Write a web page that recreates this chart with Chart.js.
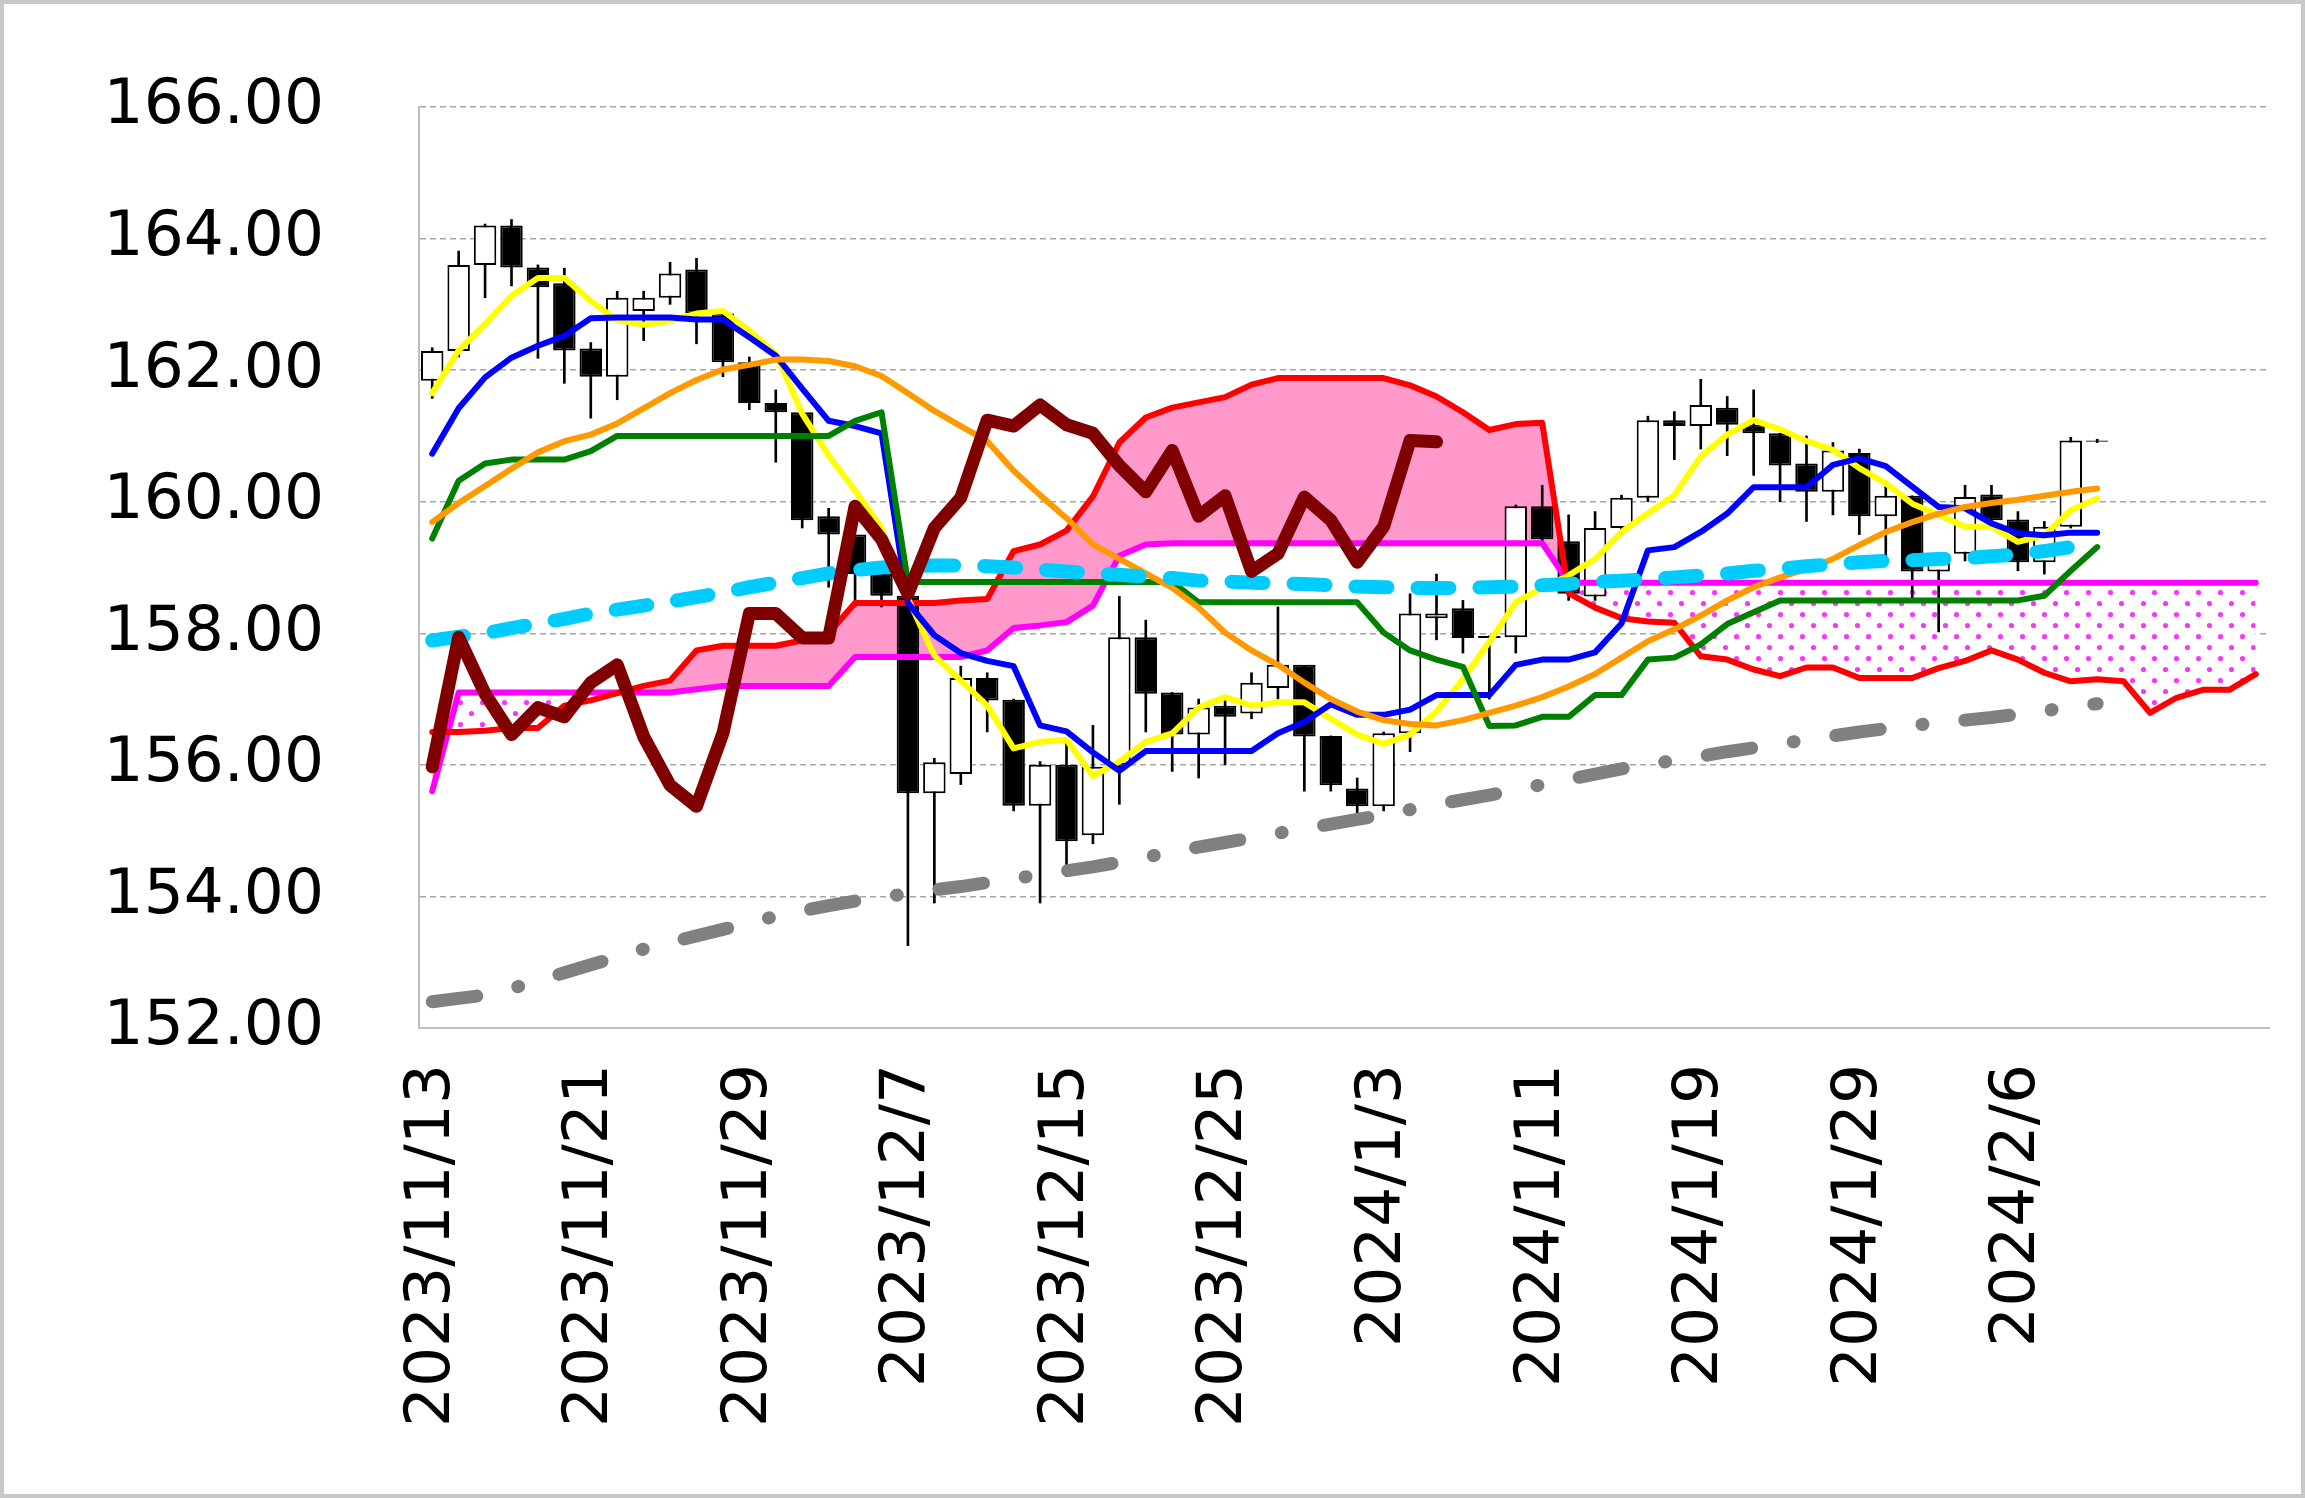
<!DOCTYPE html>
<html>
<head>
<meta charset="utf-8">
<script src="https://cdn.jsdelivr.net/npm/chart.js@4.4.1/dist/chart.umd.min.js"></script>
<style>
  html, body { margin: 0; padding: 0; background: #fff; }
  #wrap { position: absolute; left: 0; top: 0; width: 2297px; height: 1490px; border: 4px solid #c8c8c8; }
  canvas { display: block; }
</style>
</head>
<body>
<div id="wrap"><canvas id="chart" width="2297" height="1490"></canvas></div>
<script>
// Categories (trading days + future cloud days)
const dates = ['2023/11/13','2023/11/14','2023/11/15','2023/11/16','2023/11/17','2023/11/20','2023/11/21','2023/11/22','2023/11/23','2023/11/24',
  '2023/11/27','2023/11/28','2023/11/29','2023/11/30','2023/12/1','2023/12/4','2023/12/5','2023/12/6','2023/12/7','2023/12/8',
  '2023/12/11','2023/12/12','2023/12/13','2023/12/14','2023/12/15','2023/12/18','2023/12/19','2023/12/20','2023/12/21','2023/12/22',
  '2023/12/25','2023/12/26','2023/12/27','2023/12/28','2023/12/29','2024/1/2','2024/1/3','2024/1/4','2024/1/5','2024/1/8',
  '2024/1/9','2024/1/10','2024/1/11','2024/1/12','2024/1/15','2024/1/16','2024/1/17','2024/1/18','2024/1/19','2024/1/22',
  '2024/1/23','2024/1/24','2024/1/25','2024/1/26','2024/1/29','2024/1/30','2024/1/31','2024/2/1','2024/2/2','2024/2/5',
  '2024/2/6','2024/2/7','2024/2/8','2024/2/9','','','','','',''];
const shownLabels = ['2023/11/13','2023/11/21','2023/11/29','2023/12/7','2023/12/15','2023/12/25','2024/1/3','2024/1/11','2024/1/19','2024/1/29','2024/2/6'];

// Candles
const opens  = [161.84,162.29,163.6,164.2,163.56,163.32,162.33,161.9,162.9,163.1,163.53,162.86,162.12,161.5,161.36,159.78,159.5,158.9,158.57,155.57,
  155.86,157.32,156.99,155.38,156.0,154.93,156.0,157.94,157.1,156.46,156.9,156.78,157.17,157.52,156.44,155.64,155.37,156.48,158.23,158.38,
  157.96,157.94,159.93,159.4,158.56,159.6,160.06,161.24,161.15,161.43,161.17,161.04,160.58,160.15,160.74,159.78,160.09,158.94,159.21,160.11,
  159.73,159.08,159.62,160.93];
const closes = [162.29,163.6,164.2,163.56,163.26,162.3,161.9,163.1,163.1,163.47,162.86,162.12,161.5,161.36,159.72,159.5,158.9,158.57,155.57,156.04,
  157.32,156.98,155.38,156.0,154.84,155.97,157.94,157.08,156.46,156.87,156.73,157.25,157.52,156.43,155.69,155.37,156.48,158.3,158.3,157.93,
  157.93,159.93,159.43,158.6,159.6,160.06,161.24,161.15,161.47,161.17,161.04,160.55,160.15,160.78,159.78,160.09,158.94,159.21,160.07,159.72,
  159.08,159.62,160.93,160.91];
const highs  = [162.34,163.81,164.22,164.29,163.6,163.55,162.42,163.2,163.2,163.64,163.7,162.9,162.2,161.7,161.4,159.9,159.5,158.9,158.7,156.1,
  157.5,157.4,157.0,156.05,156.4,156.6,158.56,158.2,157.1,157.0,157.0,157.4,158.4,157.5,156.44,155.8,156.5,158.6,158.9,158.5,
  157.96,159.95,160.25,159.8,159.85,160.1,161.3,161.37,161.86,161.6,161.7,161.04,161.0,160.9,160.8,160.25,160.09,159.21,160.25,160.25,
  159.85,159.7,160.98,160.95];
const lows   = [161.57,162.2,163.1,163.28,162.18,161.8,161.27,161.55,162.45,163.0,162.4,161.9,161.4,160.6,159.6,158.7,158.4,158.4,153.25,153.9,
  155.7,156.5,155.3,153.9,154.3,154.8,155.4,156.5,155.9,155.8,156.0,156.7,157.0,155.6,155.6,155.1,155.3,156.2,157.9,157.7,
  157.0,157.7,159.4,158.5,158.5,159.5,160.0,160.64,160.8,160.7,160.4,160.0,159.7,159.8,159.5,159.08,158.5,158.02,159.1,159.6,
  158.95,158.9,159.6,160.9];

// Lines
const ma5    = [161.65,162.3,162.7,163.13,163.4,163.4,163.05,162.76,162.69,162.75,162.86,162.9,162.6,162.25,161.34,160.7,160.17,159.6,158.53,157.66,
  157.28,156.9,156.25,156.35,156.38,155.83,156.05,156.35,156.48,156.87,157.03,156.9,156.95,156.95,156.7,156.46,156.32,156.46,156.81,157.3,
  157.87,158.47,158.69,158.88,159.13,159.54,159.82,160.1,160.69,161.02,161.24,161.1,160.92,160.79,160.51,160.28,159.97,159.8,159.62,159.62,
  159.39,159.49,159.87,160.05];
const tenkan = [160.73,161.42,161.89,162.19,162.37,162.52,162.79,162.8,162.8,162.8,162.77,162.77,162.5,162.22,161.72,161.23,161.15,161.04,158.46,157.97,
  157.7,157.58,157.5,156.6,156.51,156.19,155.91,156.21,156.21,156.21,156.21,156.21,156.48,156.65,156.92,156.76,156.76,156.84,157.06,157.06,
  157.06,157.52,157.6,157.6,157.71,158.15,159.26,159.31,159.54,159.82,160.22,160.22,160.22,160.56,160.66,160.54,160.23,159.92,159.9,159.67,
  159.52,159.49,159.53,159.53];
const kijun  = [159.44,160.32,160.58,160.64,160.64,160.64,160.77,161.0,161.0,161.0,161.0,161.0,161.0,161.0,161.0,161.0,161.23,161.36,158.78,158.78,
  158.78,158.78,158.78,158.78,158.78,158.78,158.78,158.78,158.78,158.47,158.47,158.47,158.47,158.47,158.47,158.47,158.01,157.74,157.6,157.49,
  156.59,156.6,156.73,156.73,157.06,157.06,157.6,157.63,157.83,158.14,158.32,158.5,158.5,158.5,158.5,158.5,158.5,158.5,158.5,158.5,
  158.5,158.57,158.95,159.31];
const ma25   = [159.69,159.98,160.24,160.5,160.75,160.92,161.02,161.19,161.42,161.65,161.85,162.01,162.08,162.16,162.16,162.14,162.06,161.91,161.65,161.38,
  161.15,160.92,160.47,160.1,159.75,159.35,159.13,158.91,158.69,158.39,158.01,157.74,157.52,157.25,157.0,156.81,156.68,156.62,156.6,156.68,
  156.79,156.9,157.03,157.19,157.38,157.63,157.88,158.06,158.27,158.5,158.7,158.85,158.98,159.13,159.34,159.54,159.69,159.82,159.92,159.98,
  160.03,160.09,160.15,160.2];
const ma75   = [157.89,157.95,158.0,158.08,158.15,158.22,158.3,158.36,158.42,158.48,158.55,158.62,158.7,158.77,158.84,158.91,158.96,159.0,159.02,159.03,
  159.03,159.02,159.0,158.97,158.94,158.91,158.89,158.86,158.84,158.8,158.79,158.77,158.76,158.75,158.73,158.71,158.7,158.69,158.69,158.69,
  158.7,158.71,158.73,158.75,158.78,158.8,158.82,158.85,158.88,158.91,158.95,158.98,159.02,159.05,159.08,159.1,159.11,159.13,159.14,159.17,
  159.2,159.25,159.31,159.34];
const ma200  = [152.4,152.45,152.5,152.6,152.72,152.84,152.96,153.08,153.2,153.3,153.4,153.5,153.6,153.7,153.78,153.86,153.93,153.99,154.04,154.1,
  154.15,154.21,154.27,154.33,154.39,154.45,154.52,154.6,154.67,154.75,154.82,154.89,154.96,155.03,155.1,155.17,155.24,155.32,155.4,155.47,
  155.54,155.62,155.7,155.78,155.86,155.94,156.0,156.07,156.13,156.2,156.26,156.32,156.38,156.44,156.5,156.55,156.6,156.64,156.68,156.72,
  156.77,156.82,156.88,156.93];
const chikou = [155.97,157.94,157.08,156.46,156.87,156.73,157.25,157.52,156.43,155.69,155.37,156.48,158.3,158.3,157.93,157.93,159.93,159.43,158.6,159.6,
  160.06,161.24,161.15,161.47,161.17,161.04,160.55,160.15,160.78,159.78,160.09,158.94,159.21,160.07,159.72,159.08,159.62,160.93,160.91];
const spanA  = [156.5,156.5,156.52,156.56,156.56,156.9,156.98,157.09,157.2,157.28,157.74,157.81,157.81,157.81,157.89,158.0,158.46,158.46,158.46,158.46,
  158.5,158.52,159.25,159.35,159.56,160.08,160.9,161.28,161.43,161.51,161.59,161.78,161.88,161.88,161.88,161.88,161.88,161.77,161.6,161.36,
  161.09,161.18,161.2,158.61,158.39,158.23,158.18,158.16,157.65,157.6,157.45,157.35,157.48,157.48,157.32,157.32,157.32,157.47,157.58,157.74,
  157.6,157.4,157.27,157.3,157.27,156.79,157.02,157.14,157.14,157.38];
const spanB  = [155.6,157.1,157.1,157.1,157.1,157.1,157.1,157.1,157.1,157.1,157.15,157.2,157.2,157.2,157.2,157.2,157.64,157.64,157.64,157.64,
  157.64,157.74,158.08,158.12,158.17,158.42,159.18,159.35,159.37,159.37,159.37,159.37,159.37,159.37,159.37,159.37,159.37,159.37,159.37,159.37,
  159.37,159.37,159.37,158.77,158.77,158.77,158.77,158.77,158.77,158.77,158.77,158.77,158.77,158.77,158.77,158.77,158.77,158.77,158.77,158.77,
  158.77,158.77,158.77,158.77,158.77,158.77,158.77,158.77,158.77,158.77];
const yTicks = [152, 154, 156, 158, 160, 162, 164, 166];

// dotted pattern for the cloud where span B is above span A
const pc = document.createElement('canvas');
pc.width = 22; pc.height = 22;
const px = pc.getContext('2d');
px.fillStyle = '#ffffff'; px.fillRect(0, 0, 22, 22);
px.fillStyle = '#ff33ff';
[[5.5, 5.5], [16.5, 16.5]].forEach(p => { px.beginPath(); px.arc(p[0], p[1], 2.6, 0, Math.PI * 2); px.fill(); });
const dotPattern = document.getElementById('chart').getContext('2d').createPattern(pc, 'repeat');

const bodies = opens.map((o, i) => [o, closes[i]]);
const wicks = lows.map((l, i) => [l, highs[i]]);
const bodyColors = opens.map((o, i) => closes[i] >= o ? '#ffffff' : '#000000');

function line(label, data, color, width, extra) {
    return Object.assign({ type: 'line', label: label, data: data, borderColor: color, borderWidth: width,
        pointRadius: 0, tension: 0, fill: false, order: 1, borderCapStyle: 'round', borderJoinStyle: 'round' }, extra || {});
}

const tickFont = { family: '"DejaVu Sans", sans-serif', size: 63 };

new Chart(document.getElementById('chart'), {
    data: {
        labels: dates,
        datasets: [
            line('先行スパン2', spanB, '#ff00ff', 6, { order: 3 }),
            line('先行スパン1', spanA, '#ff0000', 6, { order: 2, fill: { target: 0, above: '#ff99cc', below: dotPattern } }),
            { type: 'bar', label: 'wick', data: wicks, backgroundColor: '#000', barThickness: 2, grouped: false, order: 20 },
            { type: 'bar', label: 'body', data: bodies, backgroundColor: bodyColors, borderColor: '#000', borderWidth: 2,
              borderSkipped: false, barPercentage: 0.85, categoryPercentage: 1, grouped: false, order: 19 },
            line('200MA', ma200, '#808080', 13, { borderDash: [45, 42, 1, 42] }),
            line('75MA', ma75, '#00ccff', 14, { borderDash: [32, 30] }),
            line('25MA', ma25, '#ff9900', 6),
            line('基準線', kijun, '#008000', 6),
            line('転換線', tenkan, '#0000ff', 6),
            line('5MA', ma5, '#ffff00', 6),
            line('遅行スパン', chikou, '#800000', 13, { order: 0 })
        ]
    },
    options: {
        responsive: false,
        animation: false,
        layout: { padding: { left: 20, top: 103, right: 32, bottom: 26 } },
        plugins: { legend: { display: false }, tooltip: { enabled: false }, filler: { drawTime: 'beforeDatasetsDraw' } },
        scales: {
            x: {
                offset: true,
                grid: { display: false },
                border: { color: '#bfbfbf', width: 2 },
                ticks: {
                    autoSkip: false, minRotation: 90, maxRotation: 90, color: '#000', padding: 28,
                    font: tickFont,
                    callback: function (v, i) { return shownLabels.includes(dates[i]) ? dates[i] : ''; }
                },
                afterFit: function (s) { s.height = 440; s.paddingLeft = 0; s.paddingRight = 0; }
            },
            y: {
                min: yTicks[0], max: yTicks[yTicks.length - 1],
                afterBuildTicks: function (s) { s.ticks = yTicks.map(v => ({ value: v })); },
                grid: { color: '#a6a6a6', lineWidth: 1.5, drawTicks: false },
                border: { color: '#bfbfbf', width: 2, dash: [6, 4] },
                ticks: {
                    color: '#000', padding: 95,
                    font: tickFont,
                    callback: function (v) { return Number(v).toFixed(2); }
                },
                afterFit: function (s) { s.width = 395; s.paddingTop = 0; s.paddingBottom = 0; }
            }
        }
    }
});
</script>
</body>
</html>
